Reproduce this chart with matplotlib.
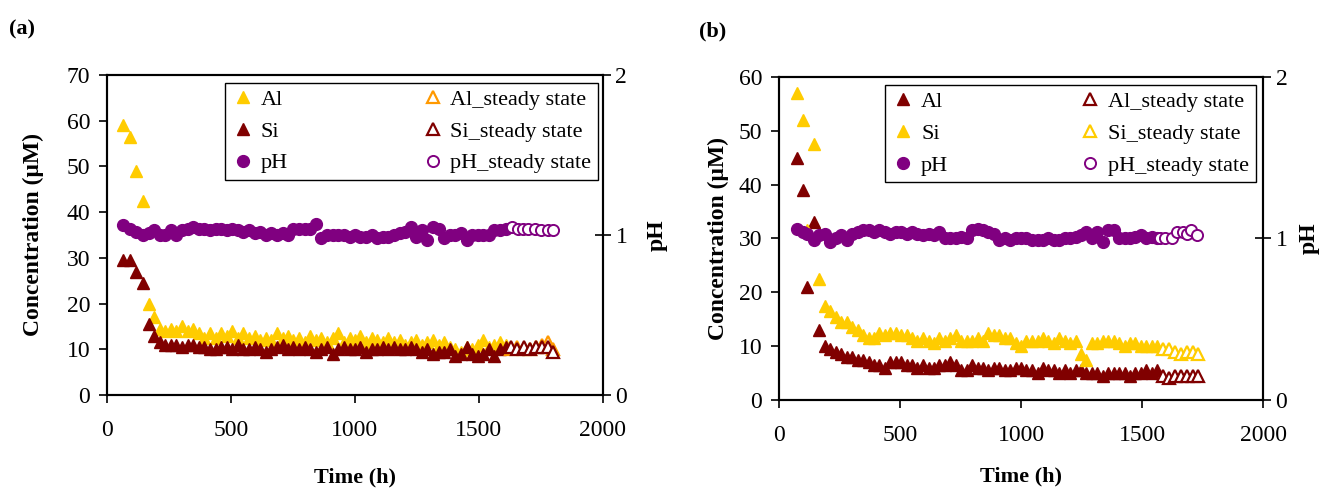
import numpy as np
import matplotlib
matplotlib.use("Agg")
import matplotlib.pyplot as plt

plt.rcParams['font.family'] = ['Liberation Serif', 'DejaVu Serif']

# ---------------- panel (a) data ----------------
time_a = [65, 92, 118, 145, 168, 190, 212, 235, 258, 280,
          302, 325, 348, 370, 392, 415, 438, 460, 482, 505,
          528, 550, 572, 595, 618, 640, 662, 685, 708, 730,
          752, 775, 798, 820, 842, 865, 888, 910, 932, 955,
          978, 1000, 1022, 1045, 1068, 1090, 1112, 1135, 1158, 1180,
          1202, 1225, 1248, 1270, 1292, 1315, 1338, 1360, 1382, 1405,
          1428, 1450, 1472, 1495, 1518, 1540, 1562, 1585, 1608]
al_a = [59, 56.5, 49, 42.5, 20, 17, 14.5, 14, 14.5, 14,
        15, 14, 14.5, 13.5, 12.5, 13.5, 12.5, 13.5, 13, 14,
        12.5, 13.5, 12.5, 13, 12, 12.5, 12, 13.5, 12.5, 13,
        12, 12.5, 11.5, 13, 12, 12.5, 11.5, 12.5, 13.5, 11.5,
        12.5, 12, 13, 11.5, 12.5, 12, 11.5, 12.5, 11.5, 12,
        11, 11.5, 12, 11, 11.5, 12, 11, 11.5, 10.5, 10,
        9.5, 10.5, 10, 11, 12, 10.5, 11, 11.5, 11]
si_a = [29.5, 29.5, 27, 24.5, 15.5, 13, 11.5, 11, 11, 11,
        10.5, 11, 11, 10.5, 10.5, 10, 10, 10.5, 10.5, 10,
        11, 10, 10, 10.5, 10, 9.5, 10, 10.5, 11, 10,
        10.5, 10, 10.5, 10, 9.5, 10, 10.5, 9, 10, 10.5,
        10, 10, 10.5, 9.5, 10, 10, 10.5, 10, 10.5, 10,
        10, 10.5, 10, 9.5, 10, 9, 9.5, 9.5, 10, 8.5,
        9, 10.5, 9, 8.5, 9, 10, 8.5, 10, 10.5]
ph_a = [1.06, 1.04, 1.02, 1.00, 1.01, 1.03, 1.00, 1.00, 1.03, 1.00,
        1.03, 1.04, 1.05, 1.04, 1.04, 1.03, 1.04, 1.04, 1.03, 1.04,
        1.03, 1.02, 1.03, 1.01, 1.02, 1.00, 1.01, 1.00, 1.01, 1.00,
        1.04, 1.04, 1.04, 1.04, 1.07, 0.98, 1.00, 1.00, 1.00, 1.00,
        0.99, 1.00, 0.99, 0.99, 1.00, 0.98, 0.99, 0.99, 1.00, 1.01,
        1.02, 1.05, 0.99, 1.03, 0.97, 1.05, 1.04, 0.98, 1.00, 1.00,
        1.01, 0.97, 1.00, 1.00, 1.00, 1.00, 1.03, 1.03, 1.04]

time_ss_a = [1630, 1655, 1680, 1705, 1730, 1755, 1778, 1800]
al_ss_a = [10.0, 10.5, 10.0, 10.0, 10.5, 11.0, 11.5, 10.0]
si_ss_a = [10.5, 10.0, 10.5, 10.0, 10.5, 10.5, 10.5, 9.5]
time_ph_ss_a = [1633, 1657, 1677, 1698, 1726, 1750, 1778, 1798]
ph_ss_a = [1.05, 1.04, 1.04, 1.04, 1.04, 1.03, 1.03, 1.03]

# ---------------- panel (b) data ----------------
time_b = [74, 99, 116, 145, 165, 190, 212, 235, 258, 280,
          302, 325, 348, 370, 392, 415, 438, 460, 482, 505,
          528, 550, 572, 595, 618, 640, 662, 685, 708, 730,
          752, 775, 798, 820, 842, 865, 888, 910, 932, 955,
          978, 1000, 1022, 1045, 1068, 1090, 1112, 1135, 1158, 1180,
          1202, 1225, 1248, 1270, 1292, 1315, 1338, 1360, 1382, 1405,
          1428, 1450, 1472, 1495, 1518, 1540, 1562]
al_b = [45, 39, 21, 33, 13, 10, 9.5, 9, 8.5, 8,
        8, 7.5, 7.5, 7, 6.5, 6.5, 6, 7, 7, 7,
        6.5, 6.5, 6, 6.5, 6, 6, 6.5, 6.5, 7, 6.5,
        5.5, 5.5, 6.5, 6, 6, 5.5, 6, 6, 5.5, 5.5,
        6, 6, 5.5, 5.5, 5, 6, 5.5, 5.5, 5, 5.5,
        5, 5.5, 5.5, 5, 5, 5, 4.5, 5, 5, 5,
        5, 4.5, 5, 5, 5.5, 5, 5.5]
si_b = [57, 52, 31.5, 47.5, 22.5, 17.5, 16.5, 15.5, 14.5, 14.5,
        13.5, 13, 12, 11.5, 11.5, 12.5, 12, 12.5, 12.5, 12,
        12, 11.5, 11, 11.5, 11, 10.5, 11.5, 11, 11.5, 12,
        11, 11, 11, 11.5, 11, 12.5, 12, 12, 11.5, 11.5,
        10.5, 10, 11, 11, 11, 11.5, 11, 10.5, 11.5, 11,
        10.5, 11, 8.5, 7.5, 10.5, 10.5, 11, 11, 11, 10.5,
        10, 10.5, 10.5, 10, 10, 10, 10]
ph_b = [1.06, 1.04, 1.03, 0.99, 1.02, 1.03, 0.98, 1.00, 1.02, 0.99,
        1.03, 1.04, 1.05, 1.05, 1.04, 1.05, 1.04, 1.03, 1.04, 1.04,
        1.03, 1.04, 1.03, 1.02, 1.03, 1.02, 1.04, 1.00, 1.00, 1.00,
        1.01, 1.00, 1.05, 1.06, 1.05, 1.04, 1.03, 0.99, 1.00, 0.99,
        1.00, 1.00, 1.00, 0.99, 0.99, 0.99, 1.00, 0.99, 0.99, 1.00,
        1.00, 1.01, 1.02, 1.04, 1.00, 1.04, 0.98, 1.05, 1.05, 1.00,
        1.00, 1.00, 1.01, 1.02, 1.00, 1.01, 1.00]

time_ss_b = [1585, 1610, 1635, 1660, 1685, 1710, 1730]
al_ss_b = [4.5, 4.0, 4.5, 4.5, 4.5, 4.5, 4.5]
si_ss_b = [9.5, 9.5, 9.0, 8.5, 9.0, 9.0, 8.5]
time_ph_ss_b = [1574, 1595, 1624, 1645, 1669, 1686, 1702, 1727]
ph_ss_b = [1.00, 1.00, 1.00, 1.04, 1.04, 1.03, 1.05, 1.02]

gold = '#FFCC00'
darkred = '#800000'
purple = '#800080'
orange = '#FF9900'

fig = plt.figure(figsize=(13.24, 4.88), dpi=100)


def make_panel(rect, ymax, ystep, series, ss_series, ph, ph_ss, legend_anchor,
               tag, tag_xy, xlabelpad, ylabelpad, phpad, colspace):
    ax = fig.add_axes(rect)
    ax2 = ax.twinx()
    handles = []
    for t, v, c, lab in series:
        h, = ax.plot(t, v, '^', color=c, mec=c, ms=9, ls='none', label=lab)
        handles.append(h)
    ss_handles = []
    for t, v, c, lab in ss_series:
        h, = ax.plot(t, v, '^', mfc='white', mec=c, mew=1.6, ms=8, ls='none', label=lab)
        ss_handles.append(h)
    hp, = ax2.plot(ph[0], ph[1], 'o', color=purple, ms=8.5, ls='none', label='pH')
    hps, = ax2.plot(ph_ss[0], ph_ss[1], 'o', mfc='white', mec=purple, mew=1.4, ms=8,
                    ls='none', label='pH_steady state')
    handles.append(hp)
    ss_handles.append(hps)

    ax.set_xlim(0, 2000)
    ax.set_ylim(0, ymax)
    ax.set_xticks([0, 500, 1000, 1500, 2000])
    ax.set_yticks(np.arange(0, ymax + 1, ystep))
    ax2.set_ylim(0, 2)
    ax2.set_yticks([0, 1, 2])
    ax.tick_params(axis='both', direction='out', labelsize=17, length=6, width=1.2)
    ax.tick_params(axis='x', pad=12)
    ax.tick_params(axis='y', pad=6)
    ax2.tick_params(axis='y', direction='inout', labelsize=17, length=12, width=1.2, pad=3)
    for a in (ax, ax2):
        for s in a.spines.values():
            s.set_linewidth(1.5)
            s.set_color('black')
    ax.set_xlabel('Time (h)', fontsize=16, fontweight='bold', labelpad=xlabelpad)
    ax.set_ylabel('Concentration (\u03bcM)', fontsize=17, fontweight='bold', labelpad=ylabelpad)
    ax2.set_ylabel('pH', fontsize=17, fontweight='bold', labelpad=phpad, rotation=90)

    leg = ax2.legend(handles + ss_handles, [h.get_label() for h in handles + ss_handles],
                     ncol=2, loc='upper right', bbox_to_anchor=legend_anchor,
                     fontsize=16, frameon=True, fancybox=False, framealpha=1,
                     edgecolor='black', handlelength=1.0, handletextpad=0.3,
                     columnspacing=colspace, labelspacing=0.5, borderpad=0.3,
                     borderaxespad=0)
    leg.get_frame().set_linewidth(1.0)
    fig.text(tag_xy[0], tag_xy[1], tag, fontsize=16, fontweight='bold', va='center')
    return ax


make_panel([0.0808, 0.1906, 0.3746, 0.656], 70, 10,
           [(time_a, al_a, gold, 'Al'), (time_a, si_a, darkred, 'Si')],
           [(time_ss_a, al_ss_a, orange, 'Al_steady state'),
            (time_ss_a, si_ss_a, darkred, 'Si_steady state')],
           (time_a, ph_a), (time_ph_ss_a, ph_ss_a),
           (0.99, 0.975), '(a)', (0.007, 0.94), 19, 16, 14, 6.0)

make_panel([0.5884, 0.1803, 0.3656, 0.662], 60, 10,
           [(time_b, al_b, darkred, 'Al'), (time_b, si_b, gold, 'Si')],
           [(time_ss_b, al_ss_b, darkred, 'Al_steady state'),
            (time_ss_b, si_ss_b, gold, 'Si_steady state')],
           (time_b, ph_b), (time_ph_ss_b, ph_ss_b),
           (0.985, 0.975), '(b)', (0.528, 0.935), 15, 7, 8, 5.9)

fig.savefig('out.png', dpi=100)
